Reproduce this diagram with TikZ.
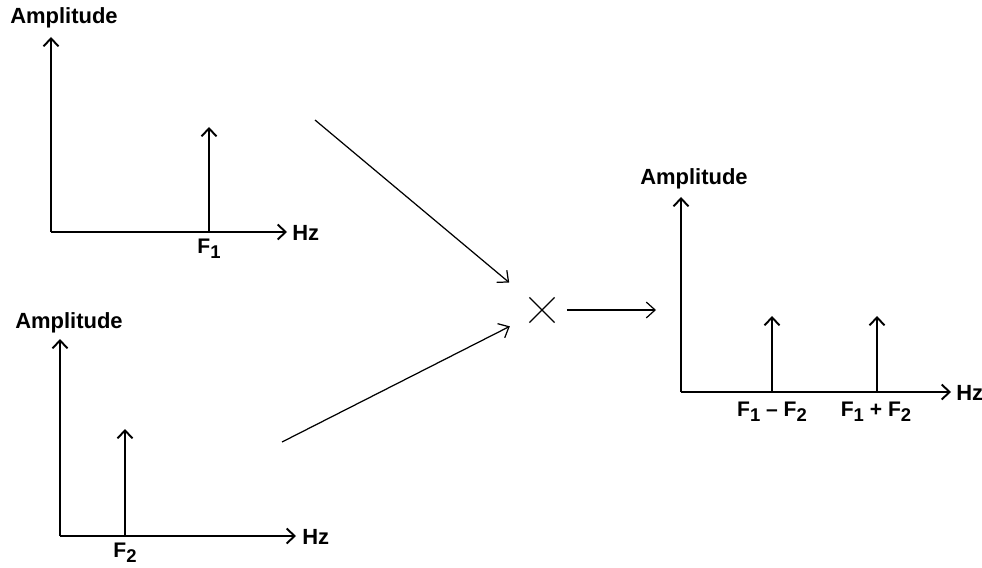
\documentclass[tikz,border=0pt]{standalone}
\usepackage{fontspec}
\setmainfont{Liberation Sans}
\usetikzlibrary{arrows.meta, shapes.misc}

\newcommand{\lowsub}[1]{\raisebox{-0.45ex}{\fontsize{10.5}{12}\selectfont #1}}

\begin{document}
\begin{tikzpicture}[
  x=0.02cm, y=-0.02cm,
  every node/.style={font=\fontsize{12.5}{14}\selectfont\bfseries, inner sep=0pt},
  freq/.style={font=\fontsize{12}{14}\selectfont\bfseries},
  axis/.style={-{Straight Barb[length=4.5pt, width=8.5pt]}, line width=1.1pt},
  flow/.style={-{Straight Barb[length=5pt, width=9pt]}, line width=0.7pt},
  mult/.style={draw, cross out, minimum size=0.48cm, line width=0.7pt}
]
\useasboundingbox (0,0) rectangle (982,567);

% first input spectrum
\coordinate (o1) at (51,232);
\coordinate (y1) at (51,37);
\coordinate (x1) at (287,232);
\coordinate (f1) at (209,232);
\coordinate (p1) at (209,127);
\node (amp1) at (64,18) {Amplitude};
\node[anchor=west] (hz1) at (292,233) {Hz};
\node[freq] (lab1) at (209,249) {F\lowsub{1}};
\draw[axis] (o1) -- (y1);
\draw[axis] (o1) -- (x1);
\draw[axis] (f1) -- (p1);

% second input spectrum
\coordinate (o2) at (60,536);
\coordinate (y2) at (60,339);
\coordinate (x2) at (296,536);
\coordinate (f2) at (125,536);
\coordinate (p2) at (125,429);
\node (amp2) at (69,323) {Amplitude};
\node[anchor=west] (hz2) at (302,537) {Hz};
\node[freq] (lab2) at (125,553) {F\lowsub{2}};
\draw[axis] (o2) -- (y2);
\draw[axis] (o2) -- (x2);
\draw[axis] (f2) -- (p2);

% mixer
\node[mult] (mix) at (542,310) {};
\coordinate (in1) at (315,120);
\coordinate (in2) at (282,442);
\coordinate (prodin) at (656,310);
\draw[flow, shorten >=15pt] (in1) -- (mix);
\draw[flow, shorten >=12.5pt] (in2) -- (mix);
\draw[flow, shorten <=7pt] (mix.east) -- (prodin);

% output spectrum
\coordinate (o3) at (681,392);
\coordinate (y3) at (681,197);
\coordinate (x3) at (951,392);
\coordinate (fd) at (772,392);
\coordinate (pd) at (772,316);
\coordinate (fs) at (877,392);
\coordinate (ps) at (877,316);
\node (amp3) at (694,179) {Amplitude};
\node[anchor=west] (hz3) at (956,393) {Hz};
\node[freq] (labd) at (772,412) {F\lowsub{1} -- F\lowsub{2}};
\node[freq] (labs) at (876,412) {F\lowsub{1} + F\lowsub{2}};
\draw[axis] (o3) -- (y3);
\draw[axis] (o3) -- (x3);
\draw[axis] (fd) -- (pd);
\draw[axis] (fs) -- (ps);
\end{tikzpicture}
\end{document}
